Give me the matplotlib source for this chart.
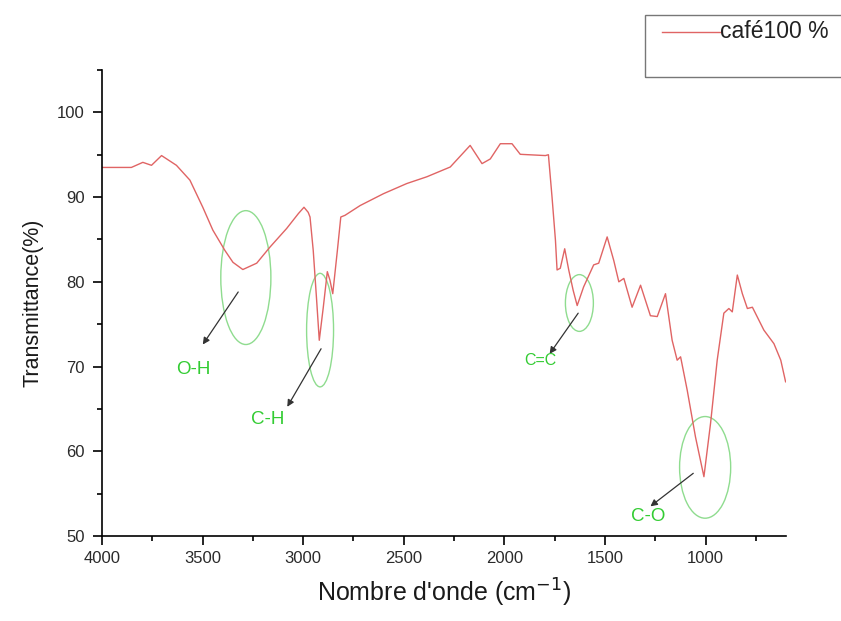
import matplotlib
matplotlib.use("Agg")
import matplotlib.pyplot as plt
from matplotlib.patches import Ellipse, Rectangle
from matplotlib.lines import Line2D
from matplotlib.ticker import MultipleLocator

plt.rcParams['font.family'] = ['Liberation Sans', 'DejaVu Sans']

# FTIR spectrum of 100 % coffee: wavenumber (cm^-1) and transmittance (%)
wavenumber = [4000, 3854, 3797, 3754, 3704, 3630, 3563, 3499, 3449, 3389, 3349,
              3300, 3231, 3165, 3082, 3024, 2996, 2975, 2966, 2950, 2933, 2920,
              2900, 2880, 2867, 2853, 2830, 2813, 2792, 2717, 2601, 2485, 2385,
              2269, 2170, 2111, 2070, 2020, 1962, 1921, 1796, 1781, 1763, 1746,
              1738, 1722, 1700, 1680, 1658, 1638, 1606, 1556, 1531, 1489, 1456,
              1431, 1406, 1365, 1323, 1274, 1240, 1199, 1166, 1141, 1124, 1091,
              1050, 1008, 975, 942, 909, 884, 867, 842, 817, 792, 767,
              710, 660, 626, 602]
transmittance = [93.5, 93.5, 94.1, 93.75, 94.9, 93.75, 92.0, 88.8, 86.1, 83.7,
                 82.3, 81.45, 82.2, 84.1, 86.3, 88.05, 88.8, 88.2, 87.65, 83.7,
                 77.8, 73.1, 77.0, 81.2, 80.2, 78.6, 83.7, 87.65, 87.85, 89.0,
                 90.4, 91.6, 92.4, 93.55, 96.1, 93.95, 94.5, 96.3, 96.3, 95.05,
                 94.9, 95.0, 90.0, 84.9, 81.4, 81.6, 83.9, 81.4, 79.0, 77.2,
                 79.4, 82.0, 82.2, 85.3, 82.5, 80.0, 80.4, 77.0, 79.6, 76.0,
                 75.9, 78.6, 73.1, 70.75, 71.15, 67.2, 61.7, 57.0, 63.3,
                 70.75, 76.3, 76.85, 76.45, 80.8, 78.6, 76.85, 77.0, 74.3, 72.7,
                 70.75, 68.2]

# Band assignments: label, ellipse (centre x, centre y, width, height),
# arrow tail, arrow head, label position
band_labels = ["O-H", "C-H", "C=C", "C-O"]
band_ellipses = [(3285, 80.5, 249, 15.8), (2916, 74.3, 134, 13.4),
                 (1627, 77.5, 139, 6.7), (1002, 58.1, 254, 12.0)]
band_tails = [(3323, 78.8), (2911, 72.1), (1633, 76.3), (1061, 57.4)]
band_heads = [(3499, 72.6), (3079, 65.25), (1775, 71.5), (1274, 53.5)]
band_text_pos = [(3548, 69.6), (3175, 63.8), (1821, 70.75), (1284, 52.3)]
band_font = [13.5, 13.5, 11.5, 13.5]

fig = plt.figure(figsize=(8.41, 6.21), dpi=100)
ax = fig.add_axes([102 / 841, 1 - 536 / 621, (786 - 102) / 841, (536 - 70) / 621])

line_color = "#e06464"
ax.plot(wavenumber, transmittance, color=line_color, lw=1.0)

for lab, (cx, cy, w, h), tail, head, tpos, fs in zip(
        band_labels, band_ellipses, band_tails, band_heads, band_text_pos, band_font):
    ax.add_patch(Ellipse((cx, cy), w, h, fill=False, edgecolor="#8fdc8f", lw=1.0))
    ax.annotate("", xy=head, xytext=tail,
                arrowprops=dict(arrowstyle="-|>", color="#333333", lw=0.9,
                                mutation_scale=10, shrinkA=0, shrinkB=0))
    ax.text(tpos[0], tpos[1], lab, color="#33cc33", fontsize=fs,
            ha="center", va="center")

ax.set_xlim(4000, 600)
ax.set_ylim(50, 105)
ax.xaxis.set_major_locator(MultipleLocator(500))
ax.xaxis.set_minor_locator(MultipleLocator(250))
ax.yaxis.set_major_locator(MultipleLocator(10))
ax.yaxis.set_minor_locator(MultipleLocator(5))
ax.set_yticks([50, 60, 70, 80, 90, 100])

for s in ("top", "right"):
    ax.spines[s].set_visible(False)
for s in ("left", "bottom"):
    ax.spines[s].set_linewidth(1.2)
ax.tick_params(which="major", direction="out", length=6.5, width=1.2,
               labelsize=12, colors="black", labelcolor="#2a2a2a")
ax.tick_params(axis="x", which="major", pad=4)
ax.tick_params(axis="y", which="major", pad=6)
ax.tick_params(which="minor", direction="out", length=3.8, width=1.2)

ax.set_xlabel("Nombre d'onde (cm$^{-1}$)", fontsize=18, labelpad=8,
              color="#1a1a1a")
ax.set_ylabel("Transmittance(%)", fontsize=15.5, labelpad=10, color="#1a1a1a")

# Legend box
fig.patches.append(Rectangle((645 / 841, 1 - 77 / 621), 200 / 841, 62 / 621,
                             transform=fig.transFigure, fill=False,
                             edgecolor="#777777", lw=1.0))
fig.lines.append(Line2D([662 / 841, 720 / 841], [1 - 32 / 621, 1 - 32 / 621],
                        transform=fig.transFigure, color=line_color, lw=1.0))
fig.text(720 / 841, 1 - 32 / 621, "café100 %", fontsize=16.5, va="center",
         ha="left", color="#222222")

fig.savefig("out.png", dpi=100)
